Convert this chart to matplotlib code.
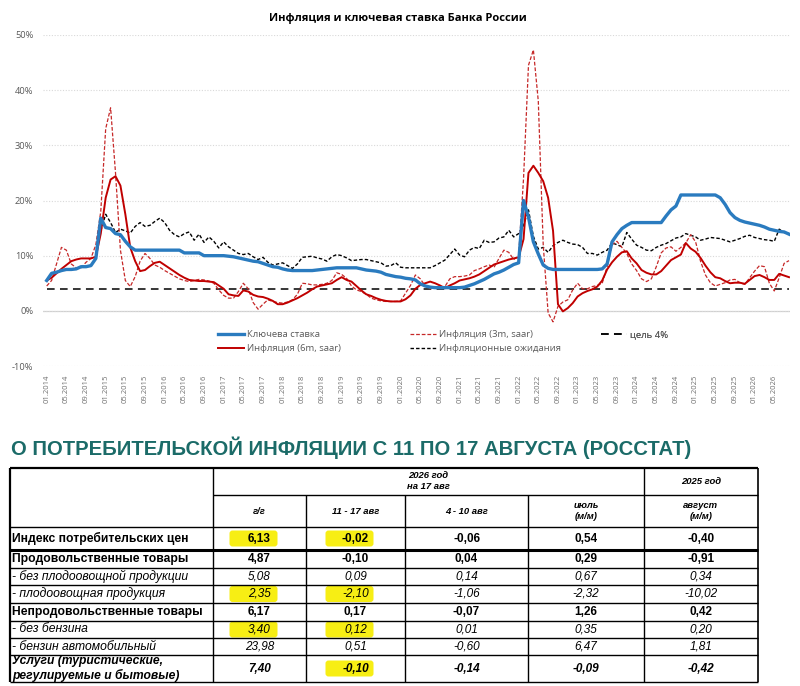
import matplotlib
matplotlib.use('Agg')
import matplotlib.pyplot as plt
import numpy as np
import pandas as pd
from matplotlib import font_manager as fm
from matplotlib.patches import FancyBboxPatch

nan = np.nan

# monthly categories 01.2014 .. 08.2026
months = pd.date_range('2014-01-01', '2026-08-01', freq='MS')
month_labels = list(months.strftime('%m.%Y'))

key_rate = [
    5.5, 6.8, 7.0, 7.3, 7.5, 7.5, 7.6, 8.0, 8.0, 8.2, 9.5, 16.8,
    15.1, 14.9, 14.0, 13.8, 12.6, 11.6, 11.0, 11.0, 11.0, 11.0, 11.0, 11.0,
    11.0, 11.0, 11.0, 11.0, 10.5, 10.5, 10.5, 10.5, 10.0, 10.0, 10.0, 10.0,
    10.0, 9.9, 9.8, 9.6, 9.4, 9.2, 9.0, 8.9, 8.6, 8.3, 8.0, 7.9,
    7.6, 7.4, 7.3, 7.3, 7.3, 7.3, 7.3, 7.4, 7.5, 7.6, 7.7, 7.8,
    7.8, 7.8, 7.8, 7.8, 7.6, 7.4, 7.3, 7.2, 7.0, 6.6, 6.4, 6.2,
    6.1, 5.9, 5.8, 5.6, 4.9, 4.5, 4.3, 4.2, 4.2, 4.2, 4.2, 4.2,
    4.2, 4.3, 4.6, 4.9, 5.3, 5.7, 6.2, 6.7, 7.0, 7.4, 7.9, 8.4,
    8.7, 20.0, 17.0, 12.5, 10.3, 8.3, 7.7, 7.5, 7.5, 7.5, 7.5, 7.5,
    7.5, 7.5, 7.5, 7.5, 7.5, 7.6, 8.5, 12.5, 13.8, 14.9, 15.5, 16.0,
    16.0, 16.0, 16.0, 16.0, 16.0, 16.0, 17.2, 18.3, 19.0, 21.0, 21.0, 21.0,
    21.0, 21.0, 21.0, 21.0, 21.0, 20.5, 19.3, 17.8, 16.9, 16.4, 16.1, 15.9,
    15.7, 15.5, 15.2, 14.8, 14.6, 14.4, 14.3, 13.9,
]
infl_6m = [
    5.5, 6.0, 6.8, 7.6, 8.3, 9.0, 9.3, 9.5, 9.5, 9.5, 9.8, 14.0,
    20.5, 23.8, 24.4, 22.7, 17.5, 11.5, 9.0, 7.2, 7.4, 8.1, 8.7, 8.9,
    8.3, 7.7, 7.1, 6.5, 6.0, 5.6, 5.5, 5.4, 5.4, 5.3, 5.2, 4.6,
    4.0, 3.0, 2.8, 2.7, 3.7, 3.5, 2.9, 2.6, 2.5, 2.2, 1.8, 1.2,
    1.2, 1.5, 1.9, 2.3, 2.8, 3.3, 3.9, 4.4, 4.6, 4.8, 5.0, 5.6,
    6.1, 5.6, 5.3, 4.5, 3.7, 3.0, 2.7, 2.3, 2.0, 1.8, 1.7, 1.7,
    1.7, 2.1, 2.8, 4.0, 4.7, 5.0, 5.3, 5.0, 4.6, 4.1, 4.6, 5.0,
    5.5, 5.7, 5.9, 6.2, 6.6, 7.2, 7.8, 8.4, 8.7, 9.0, 9.3, 9.5,
    9.7, 13.0, 25.0, 26.3, 25.0, 23.5, 20.5, 14.5, 1.2, -0.1, 0.5, 1.4,
    2.6, 3.2, 3.6, 3.9, 4.4, 5.5, 7.5, 8.8, 9.8, 10.6, 10.8, 9.5,
    8.6, 7.4, 6.9, 6.6, 6.6, 7.2, 8.2, 9.2, 9.7, 10.2, 12.3, 11.3,
    10.7, 9.6, 8.2, 7.0, 6.1, 5.9, 5.4, 5.0, 5.1, 5.1, 4.9, 5.6,
    6.3, 6.5, 6.1, 5.6, 5.6, 6.7, 6.4, 6.1,
]
infl_3m = [
    4.5, 5.5, 8.5, 11.5, 11.0, 8.5, 7.8, 7.8, 8.8, 9.5, 12.0, 18.0,
    33.0, 36.8, 25.0, 11.0, 5.5, 4.4, 6.2, 9.0, 10.4, 9.5, 8.3, 7.9,
    7.3, 6.8, 6.3, 5.8, 5.5, 5.3, 5.5, 5.7, 5.6, 5.4, 5.0, 3.8,
    2.8, 2.3, 2.3, 3.5, 5.0, 4.0, 1.5, 0.3, 1.2, 2.0, 1.7, 1.5,
    1.4, 1.6, 2.0, 3.0, 5.0, 4.9, 4.7, 4.7, 4.8, 5.0, 5.5, 6.9,
    6.6, 5.9, 4.5, 3.8, 3.5, 3.0, 2.3, 2.0, 1.8, 1.7, 1.7, 1.7,
    1.8, 3.2, 4.6, 6.5, 5.8, 4.5, 4.0, 4.2, 4.4, 4.4, 5.8, 6.2,
    6.2, 6.3, 6.5, 7.3, 7.6, 8.0, 8.3, 7.9, 9.5, 11.0, 10.6, 9.3,
    10.0, 24.0, 44.5, 47.3, 38.0, 12.0, -0.4, -2.0, 0.8, 1.6, 2.0, 3.8,
    5.0, 4.0, 4.0, 4.4, 4.6, 5.0, 8.0, 12.0, 12.6, 11.5, 10.4, 8.5,
    7.3, 5.8, 5.3, 5.8, 8.0, 10.5, 11.4, 11.6, 10.8, 11.5, 12.3, 13.8,
    12.5, 9.0, 6.5, 5.1, 4.5, 4.8, 5.1, 5.6, 5.7, 5.1, 4.8, 6.0,
    7.2, 8.2, 8.0, 5.0, 3.6, 6.0, 8.6, 9.1,
]
expectations = [
    nan, nan, nan, nan, nan, nan, nan, nan, nan, nan, nan, 14.5,
    17.5, 16.0, 14.2, 14.8, 14.5, 14.1, 15.3, 16.0, 15.3, 15.5, 16.2, 16.8,
    16.0, 14.6, 13.8, 13.4, 14.0, 14.3, 12.8, 13.9, 12.4, 13.4, 12.6, 11.4,
    12.5, 11.6, 11.0, 10.4, 10.2, 10.4, 9.8, 9.3, 9.7, 8.8, 8.3, 8.5,
    8.7, 8.2, 7.7, 8.5, 9.7, 9.8, 9.9, 9.6, 9.4, 9.0, 9.8, 10.2,
    10.0, 9.6, 9.1, 9.2, 9.3, 9.3, 9.1, 8.9, 8.7, 8.1, 8.2, 8.7,
    7.9, 7.8, 7.8, 7.8, 7.8, 7.8, 7.8, 8.2, 8.7, 9.2, 10.2, 11.2,
    10.1, 9.8, 11.0, 11.5, 11.3, 12.8, 12.4, 12.5, 13.2, 13.4, 14.6, 13.4,
    14.0, 15.5, 18.3, 13.5, 11.2, 11.5, 10.6, 11.8, 12.4, 12.8, 12.4, 12.1,
    12.0, 11.5, 10.4, 10.4, 10.1, 10.6, 11.0, 12.3, 12.0, 11.6, 14.2, 13.0,
    11.9, 11.5, 11.0, 10.9, 11.5, 11.9, 12.2, 12.7, 13.2, 13.4, 14.0, 13.7,
    13.4, 12.8, 13.0, 13.3, 13.2, 13.1, 12.8, 12.5, 12.8, 13.1, 13.5, 13.7,
    13.3, 13.1, 12.9, 12.8, 12.6, 14.8, 14.2, 14.0,
]
target = 4.0

# table
row_labels = ['Индекс потребительских цен', 'Продовольственные товары',
              '- без плодоовощной продукции', '- плодоовощная продукция',
              'Непродовольственные товары', '- без бензина',
              '- бензин автомобильный',
              'Услуги (туристические,\nрегулируемые и бытовые)']
col_headers = ['г/г', '11 - 17 авг', '4 - 10 авг', 'июль\n(м/м)', 'август\n(м/м)']
yoy = ['6,13', '4,87', '5,08', '2,35', '6,17', '3,40', '23,98', '7,40']
week_now = ['-0,02', '-0,10', '0,09', '-2,10', '0,17', '0,12', '0,51', '-0,10']
week_prev = ['-0,06', '0,04', '0,14', '-1,06', '-0,07', '0,01', '-0,60', '-0,14']
july = ['0,54', '0,29', '0,67', '-2,32', '1,26', '0,35', '6,47', '-0,09']
aug_2025 = ['-0,40', '-0,91', '0,34', '-10,02', '0,42', '0,20', '1,81', '-0,42']
row_style = ['b', 'b', 'i', 'i', 'b', 'i', 'i', 'bi']
highlighted = [(0, 0), (0, 1), (3, 0), (3, 1), (5, 0), (5, 1), (7, 1)]

names = {f.name for f in fm.fontManager.ttflist}
narrow = 'Liberation Sans Narrow' if 'Liberation Sans Narrow' in names else 'Liberation Sans'
ui = ['Open Sans', 'DejaVu Sans']
arial = ['Liberation Sans', 'DejaVu Sans']
grey = '#595959'

W, H = 800, 686
fig = plt.figure(figsize=(W / 100, H / 100), dpi=100)


def fx(px):
    return px / W


def fy(py):
    return 1 - py / H


# ---- chart ----
ax = fig.add_axes([fx(43), fy(366), fx(790) - fx(43), fy(35) - fy(366)])
x = np.arange(len(months))
l_tgt, = ax.plot(x, np.full(len(x), target), color='black', lw=1.1, ls=(0, (5, 3.5)), label='цель 4%')
l_exp, = ax.plot(x, expectations, color='black', lw=1.0, ls=(0, (2.5, 1.5)), label='Инфляционные ожидания')
l_3m, = ax.plot(x, infl_3m, color='#c62828', lw=0.9, ls=(0, (3, 1.5)), label='Инфляция (3m, saar)')
l_6m, = ax.plot(x, infl_6m, color='#c00000', lw=1.4, label='Инфляция (6m, saar)')
l_key, = ax.plot(x, key_rate, color='#2a7bbf', lw=2.4, label='Ключева ставка')

ax.set_xlim(-0.75, 151.2)
ax.set_ylim(-10, 50)
ax.set_yticks(range(-10, 51, 10))
ax.set_yticklabels([f'{v}%' for v in range(-10, 51, 10)], family=ui, fontsize=6.7, color=grey)
ax.set_xticks(x[::4])
ax.set_xticklabels(month_labels[::4], rotation=90, family=ui, fontsize=5.5, color='#6f6f6f')
ax.tick_params(length=0)
ax.tick_params(axis='y', pad=7)
ax.tick_params(axis='x', pad=6)
ax.yaxis.grid(True, color='#d9d9d9', ls=(0, (1, 1.5)), lw=0.8)
ax.axhline(0, color='#d0d0d0', lw=0.9, zorder=0.5)
ax.set_axisbelow(True)
for s in ax.spines.values():
    s.set_visible(False)


def add_leg(handles, xpx):
    leg = ax.legend(handles=handles, loc='upper left', bbox_to_anchor=(fx(xpx), fy(330)),
                    bbox_transform=fig.transFigure, frameon=False, handlelength=2.8,
                    handletextpad=0.3, labelspacing=0.55, borderpad=0, borderaxespad=0,
                    labelcolor=grey, prop={'family': ui, 'size': 6.8})
    ax.add_artist(leg)


add_leg([l_key, l_6m], 218)
add_leg([l_3m, l_exp], 410)
add_leg([l_tgt], 601)

# ---- overlay: title, heading, table ----
ov = fig.add_axes([0, 0, 1, 1])
ov.set_xlim(0, W)
ov.set_ylim(H, 0)
ov.axis('off')
ov.patch.set_alpha(0)

ov.text(398, 18, 'Инфляция и ключевая ставка Банка России', ha='center', va='center',
        fontsize=8, fontweight='bold', family=ui)

head = ov.text(11, 448, 'О ПОТРЕБИТЕЛЬСКОЙ ИНФЛЯЦИИ С 11 ПО 17 АВГУСТА (РОССТАТ)',
               ha='left', va='center', fontsize=15.5, fontweight='bold',
               color='#1b6b68', family=[narrow, 'DejaVu Sans'])
fig.canvas.draw()
w = head.get_window_extent().width
if w > 0:
    head.set_fontsize(15.5 * 680 / w)

col_edges = [10, 213, 306, 405, 528, 644, 758]
row_edges = [527, 550, 568, 585, 603, 621, 638, 655, 682]
top, mid = 468, 495
col_mid = [(a + b) / 2 for a, b in zip(col_edges[1:-1], col_edges[2:])]

# highlights
for r, c in highlighted:
    cx = col_mid[c]
    cy = (row_edges[r] + row_edges[r + 1]) / 2
    ov.add_patch(FancyBboxPatch((cx - 30, cy - 8), 48, 16,
                                boxstyle='round,pad=0,rounding_size=3',
                                fc='#f7ee14', ec='none', zorder=1))

lk = dict(color='black', zorder=3, solid_capstyle='butt')
ov.plot([10, 758], [top, top], lw=1.6, **lk)
ov.plot([10, 10], [top, row_edges[-1]], lw=1.6, **lk)
ov.plot([758, 758], [top, row_edges[-1]], lw=1.2, **lk)
ov.plot([213, 758], [mid, mid], lw=1.0, **lk)
for xe in (213, 644):
    ov.plot([xe, xe], [top, row_edges[-1]], lw=1.0, **lk)
for xe in (306, 405, 528):
    ov.plot([xe, xe], [mid, row_edges[-1]], lw=1.0, **lk)
for i, ye in enumerate(row_edges):
    ov.plot([10, 758], [ye, ye], lw=2.2 if i == 1 else 1.0, **lk)

hk = dict(ha='center', va='center', fontsize=6.8, fontweight='bold', style='italic',
          family=arial, linespacing=1.4, zorder=4)
ov.text((213 + 644) / 2, 481, '2026 год\nна 17 авг', **hk)
ov.text((644 + 758) / 2, 482, '2025 год', **hk)
for cx, h in zip(col_mid, col_headers):
    ov.text(cx, 511, h, **hk)

columns = [yoy, week_now, week_prev, july, aug_2025]
for r, lbl in enumerate(row_labels):
    cy = (row_edges[r] + row_edges[r + 1]) / 2
    st = row_style[r]
    fw = 'bold' if 'b' in st else 'normal'
    fs = 'italic' if 'i' in st else 'normal'
    ov.text(12, cy, lbl, ha='left', va='center', fontsize=8.7, fontweight=fw, style=fs,
            family=arial, linespacing=1.15, zorder=4)
    for c, col in enumerate(columns):
        ov.text(col_mid[c], cy, col[r], ha='center', va='center', fontsize=8.5,
                fontweight=fw, style=fs, family=arial, zorder=4)

fig.savefig('out.png', dpi=100)
